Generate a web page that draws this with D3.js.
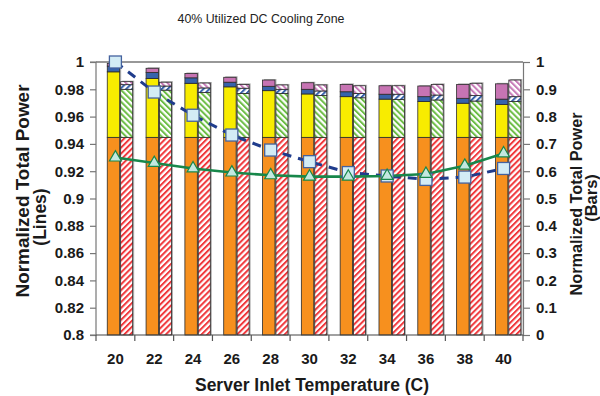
<!DOCTYPE html>
<html><head><meta charset="utf-8">
<script src="https://cdn.jsdelivr.net/npm/d3@7"></script>
<style>body{margin:0;background:#fff}svg{display:block}text{font-family:"Liberation Sans",Arial,sans-serif}</style>
</head><body>
<svg id="c" width="600" height="396"></svg>
<script>
const categories = [20,22,24,26,28,30,32,34,36,38,40];
// solid bar segments (right axis)
const orangeSeg = [0.724,0.724,0.724,0.724,0.724,0.724,0.724,0.724,0.724,0.724,0.724];
const yellowSeg = [0.240,0.216,0.198,0.185,0.171,0.159,0.149,0.140,0.131,0.125,0.120];
const blueSeg   = [0.021,0.022,0.020,0.017,0.016,0.017,0.018,0.018,0.018,0.018,0.020];
const purpleSeg = [0.010,0.015,0.016,0.018,0.023,0.024,0.027,0.031,0.039,0.051,0.056];
// hatched bar segments (right axis)
const redHatchSeg   = [0.724,0.724,0.724,0.724,0.724,0.724,0.724,0.724,0.724,0.724,0.724];
const greenHatchSeg = [0.176,0.173,0.164,0.161,0.161,0.153,0.145,0.139,0.137,0.133,0.131];
const blueHatchSeg  = [0.017,0.015,0.017,0.019,0.015,0.017,0.016,0.019,0.018,0.020,0.018];
const pinkHatchSeg  = [0.011,0.014,0.018,0.014,0.016,0.022,0.028,0.031,0.039,0.045,0.061];
// lines (left axis)
const lineBlue  = [1.000,0.978,0.961,0.9465,0.9355,0.927,0.919,0.9165,0.914,0.9157,0.922];
const lineGreen = [0.930,0.926,0.922,0.919,0.917,0.916,0.916,0.9165,0.918,0.924,0.933];
const leftTicks  = [0.8,0.82,0.84,0.86,0.88,0.9,0.92,0.94,0.96,0.98,1];
const rightTicks = [0,0.1,0.2,0.3,0.4,0.5,0.6,0.7,0.8,0.9,1];

const svg = d3.select("#c");
const L = 96, R = 523, T = 62, B = 335;
const x = d3.scaleBand().domain(categories).range([L, R]).padding(0);
const yL = d3.scaleLinear().domain([0.8, 1]).range([B, T]);
const yR = d3.scaleLinear().domain([0, 1]).range([B, T]);
const bw = x.bandwidth();

// patterns
const defs = svg.append("defs");
function hatch(id, color, angle) {
  const p = defs.append("pattern").attr("id", id).attr("patternUnits", "userSpaceOnUse")
    .attr("width", 4.2).attr("height", 4.2).attr("patternTransform", `rotate(${angle})`);
  p.append("rect").attr("width", 4.2).attr("height", 4.2).attr("fill", "#fff");
  p.append("rect").attr("x", 0).attr("width", 2).attr("height", 4.2).attr("fill", color);
}
hatch("hr", "#f0383c", 45);
hatch("hg", "#6cbd45", -45);
hatch("hb", "#3660aa", 45);
hatch("hp", "#c77ab8", -45);

const solidSeries = [
  {vals: orangeSeg, fill: "#f7901e"},
  {vals: yellowSeg, fill: "#f8ec00"},
  {vals: blueSeg, fill: "#3763ab"},
  {vals: purpleSeg, fill: "#c774b3"}
];
const hatchSeries = [
  {vals: redHatchSeg, fill: "url(#hr)"},
  {vals: greenHatchSeg, fill: "url(#hg)"},
  {vals: blueHatchSeg, fill: "url(#hb)"},
  {vals: pinkHatchSeg, fill: "url(#hp)"}
];

function drawStack(series, offFrac, wFrac) {
  const g = svg.append("g");
  categories.forEach((c, i) => {
    const x0 = x(c) + bw * offFrac, w = bw * wFrac;
    let total = 0; series.forEach(s => total += s.vals[i]);
    g.append("rect").attr("x", x0 + 1.5).attr("y", yR(total) - 1).attr("width", w)
      .attr("height", yR(0) - yR(total) + 1).attr("fill", "#b0b0b0");
    let acc = 0;
    series.forEach(s => {
      const v = s.vals[i];
      g.append("rect").attr("x", x0).attr("y", yR(acc + v)).attr("width", w)
        .attr("height", yR(acc) - yR(acc + v)).attr("fill", s.fill)
        .attr("stroke", "#2b2b2b").attr("stroke-width", 0.8);
      acc += v;
    });
  });
}
drawStack(solidSeries, 0.29, 0.32);
drawStack(hatchSeries, 0.635, 0.31);

// frame top
svg.append("line").attr("x1", L).attr("x2", R).attr("y1", T).attr("y2", T)
  .attr("stroke", "#333").attr("stroke-width", 1.2);

// axes
const gl = svg.append("g").attr("transform", `translate(${L},0)`)
  .call(d3.axisLeft(yL).tickValues(leftTicks).tickSize(6).tickPadding(6)
    .tickFormat(d => String(+d.toFixed(2))));
const gr = svg.append("g").attr("transform", `translate(${R},0)`)
  .call(d3.axisRight(yR).tickValues(rightTicks).tickSize(7).tickPadding(6)
    .tickFormat(d => String(+d.toFixed(1))));
[gl, gr].forEach(g => {
  g.selectAll("path,line").attr("stroke", "#777").attr("stroke-width", 1.2);
  g.selectAll("text").attr("font-size", 15).attr("font-weight", "bold").attr("fill", "#1a1a1a");
});
gl.select(".domain").attr("d", `M-6,${T}H0V${B}H-6`);

const gx = svg.append("g").attr("transform", `translate(0,${B})`)
  .call(d3.axisBottom(x).tickSize(0).tickPadding(18));
gx.select(".domain").remove();
gx.selectAll("text").attr("font-size", 15).attr("font-weight", "bold").attr("fill", "#1a1a1a");
svg.append("line").attr("x1", L).attr("x2", R).attr("y1", B).attr("y2", B)
  .attr("stroke", "#444").attr("stroke-width", 1.2);
const bounds = categories.map(c => x(c)).concat([x(categories[categories.length-1]) + bw]);
svg.append("g").selectAll("line").data(bounds).join("line")
  .attr("x1", d => d).attr("x2", d => d).attr("y1", B).attr("y2", B + 6)
  .attr("stroke", "#555").attr("stroke-width", 1.2);

// lines
const cx = c => x(c) + bw / 2;
svg.append("path").datum(lineBlue).attr("fill", "none").attr("stroke", "#1f3c8c")
  .attr("stroke-width", 3).attr("stroke-dasharray", "9,7")
  .attr("d", d3.line().x((d, i) => cx(categories[i])).y(d => yL(d)));
svg.append("path").datum(lineGreen).attr("fill", "none").attr("stroke", "#17874a")
  .attr("stroke-width", 2.6)
  .attr("d", d3.line().x((d, i) => cx(categories[i])).y(d => yL(d)));
svg.append("g").selectAll("rect").data(lineBlue).join("rect")
  .attr("x", (d, i) => cx(categories[i]) - 6).attr("y", d => yL(d) - 6)
  .attr("width", 12).attr("height", 12).attr("fill", "#d3ecf5")
  .attr("stroke", "#44629e").attr("stroke-width", 1.3);
svg.append("g").selectAll("path").data(lineGreen).join("path")
  .attr("transform", (d, i) => `translate(${cx(categories[i])},${yL(d)})`)
  .attr("d", d3.symbol().type(d3.symbolTriangle).size(62))
  .attr("fill", "#c3e8e0").attr("stroke", "#17874a").attr("stroke-width", 1.2);

// titles
svg.append("text").attr("x", 261).attr("y", 23).attr("text-anchor", "middle")
  .attr("font-size", 12.5).attr("fill", "#222").attr("textLength", 167)
  .attr("lengthAdjust", "spacingAndGlyphs").text("40% Utilized DC Cooling Zone");
svg.append("text").attr("x", 312).attr("y", 391).attr("text-anchor", "middle")
  .attr("font-size", 17.5).attr("font-weight", "bold").attr("fill", "#1a1a1a")
  .text("Server Inlet Temperature (C)");
svg.append("text").attr("transform", "translate(29,191) rotate(-90)").attr("text-anchor", "middle")
  .attr("font-size", 18.5).attr("font-weight", "bold").attr("fill", "#1a1a1a")
  .attr("textLength", 213).attr("lengthAdjust", "spacingAndGlyphs").text("Normalized Total Power");
svg.append("text").attr("transform", "translate(46,217) rotate(-90)").attr("text-anchor", "middle")
  .attr("font-size", 17.5).attr("font-weight", "bold").attr("fill", "#1a1a1a").text("(Lines)");
svg.append("text").attr("transform", "translate(582,204) rotate(-90)").attr("text-anchor", "middle")
  .attr("font-size", 16.5).attr("font-weight", "bold").attr("fill", "#1a1a1a")
  .attr("textLength", 183).attr("lengthAdjust", "spacingAndGlyphs").text("Normalized Total Power");
svg.append("text").attr("transform", "translate(597,198) rotate(-90)").attr("text-anchor", "middle")
  .attr("font-size", 16.5).attr("font-weight", "bold").attr("fill", "#1a1a1a").text("(Bars)");
</script>
</body></html>
